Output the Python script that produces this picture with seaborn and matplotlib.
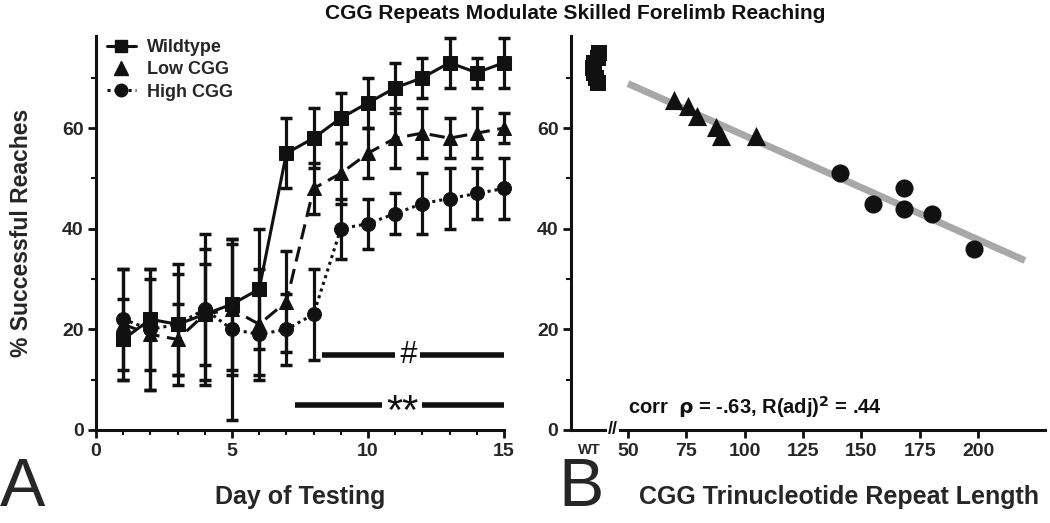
import numpy as np
import pandas as pd
import seaborn as sns
import matplotlib.pyplot as plt
from matplotlib.lines import Line2D
from matplotlib.ticker import MultipleLocator

# panel A: reaching success per day
days = np.arange(1, 16)
wt_mean = [18, 22, 21, 23, 25, 28, 55, 58, 62, 65, 68, 70, 73, 71, 73]
wt_err = [8, 10, 12, 10, 13, 12, 7, 6, 5, 5, 5, 4, 5, 3, 5]
low_mean = [21, 19, 18, 23, 24, 21, 25.5, 48, 51, 55, 58, 59, 58, 59, 60]
low_err = [11, 11, 7, 13, 13, 11, 10, 5, 6, 5, 6, 5, 4, 5, 3]
high_mean = [22, 20, 21, 24, 20, 19, 20, 23, 40, 41, 43, 45, 46, 47, 48]
high_err = [10, 12, 10, 15, 18, 8, 7, 9, 6, 5, 4, 6, 6, 5, 6]

# panel B: repeat length vs final success
wt_x = [37.5, 37, 35.5, 35, 35.5, 36.5, 37]
wt_y = [75, 74, 73, 72, 71, 70, 69]
low_x = [69.7, 75.7, 79.7, 87.6, 89.7, 105]
low_y = [65.5, 64.4, 62.4, 60.3, 58.4, 58.4]
high_x = [141, 155, 168, 168, 180, 198]
high_y = [51, 45, 48, 44, 43, 36]
fit_range = (50, 220)
b_ticks = [50, 75, 100, 125, 150, 175, 200]

sns.set_theme(style="ticks")
plt.rcParams["font.family"] = ["Liberation Sans", "DejaVu Sans"]
plt.rcParams["font.weight"] = "bold"
plt.rcParams["axes.labelweight"] = "bold"

fig = plt.figure(figsize=(10.5, 5.23), dpi=100)
fig.set_facecolor("#FFFFFF")
ax = fig.add_axes([96 / 1050, 93 / 523, 408 / 1050, 394 / 523])
bx = fig.add_axes([571 / 1050, 93 / 523, 474 / 1050, 394 / 523])

K = "#111111"
series = [
    (wt_mean, wt_err, "s", "-"),
    (low_mean, low_err, "^", (0, (5, 2.5))),
    (high_mean, high_err, "o", (0, (1, 1.3))),
]
for mean, err, mk, ls in series:
    ax.errorbar(days, mean, yerr=err, fmt="none", ecolor=K, elinewidth=2.3,
                capsize=4.5, capthick=2.5, clip_on=False, zorder=2)
    sns.lineplot(x=days, y=mean, ax=ax, color=K, linewidth=2.2, linestyle=ls,
                 marker=mk, markersize=10, markeredgecolor=K, clip_on=False, zorder=3)

ax.plot([8.3, 11.0], [15, 15], color=K, lw=4, solid_capstyle="butt")
ax.plot([11.9, 15], [15, 15], color=K, lw=4, solid_capstyle="butt")
ax.text(11.45, 15, "#", ha="center", va="center", fontsize=22, fontweight="normal",
        style="italic", color=K)
ax.plot([7.3, 10.5], [5, 5], color=K, lw=4, solid_capstyle="butt")
ax.plot([12.0, 15], [5, 5], color=K, lw=4, solid_capstyle="butt")
ax.text(11.25, 3.4, "**", ha="center", va="center", fontsize=30, fontweight="normal",
        color=K)

handles = [
    Line2D([], [], color=K, lw=2.2, marker="s", markersize=9),
    Line2D([], [], color=K, lw=0, marker="^", markersize=10),
    Line2D([], [], color=K, lw=2.2, ls=(0, (1, 1.3)), marker="o", markersize=9),
]
ax.legend(handles, ["Wildtype", "Low CGG", "High CGG"], loc="upper left",
          frameon=False, handlelength=1.6, handletextpad=0.6, labelspacing=0.3,
          borderaxespad=0.2, bbox_to_anchor=(0.0, 1.02), prop={"size": 13, "weight": "bold"})

ax.set_xlim(0, 15)
ax.set_ylim(0, 78.3)
ax.set_xticks([0, 5, 10, 15])
ax.set_yticks([0, 20, 40, 60])
ax.xaxis.set_minor_locator(MultipleLocator(1))
ax.yaxis.set_minor_locator(MultipleLocator(10))
ax.set_xlabel("Day of Testing", fontsize=18)
ax.set_ylabel("% Successful Reaches", fontsize=16.5)
ax.xaxis.set_label_coords(0.5, -0.14)
ax.yaxis.set_label_coords(-0.155, 0.5)

# panel B
sns.scatterplot(x=wt_x, y=wt_y, ax=bx, marker="s", s=130, color=K, edgecolor=K,
                linewidth=0, zorder=3)
sns.scatterplot(x=low_x, y=low_y, ax=bx, marker="^", s=190, color=K, edgecolor=K,
                linewidth=0, zorder=3)
sns.scatterplot(x=high_x, y=high_y, ax=bx, marker="o", s=170, color=K, edgecolor=K,
                linewidth=0, zorder=3)
fx = np.array(low_x + high_x)
fy = np.array(low_y + high_y)
slope, icpt = np.polyfit(fx, fy, 1)
xs = np.linspace(*fit_range, 50)
bx.plot(xs, slope * xs + icpt, color="#A8A8A8", lw=5, zorder=2, solid_capstyle="butt")

bx.text(50, 4.5, r"corr  $\mathbf{\rho}$ = -.63, R(adj)$^\mathbf{2}$ = .44", fontsize=14.5,
        ha="left", va="center", color=K)
bx.text(43.6, 0, "//", ha="center", va="center", fontsize=13, color=K,
        bbox=dict(boxstyle="square,pad=0.05", fc="white", ec="none"), clip_on=False)

bx.set_xlim(25.6, 228.6)
bx.set_ylim(0, 78.3)
bx.set_xticks([33.5] + b_ticks)
bx.set_xticklabels(["WT"] + [str(t) for t in b_ticks])
bx.set_yticks([0, 20, 40, 60])
bx.yaxis.set_minor_locator(MultipleLocator(10))
first = bx.xaxis.get_major_ticks()[0]
first.tick1line.set_visible(False)
bx.set_xlabel("CGG Trinucleotide Repeat Length", fontsize=18)
bx.xaxis.set_label_coords(0.565, -0.14)

for a in (ax, bx):
    sns.despine(ax=a)
    for s in ("left", "bottom"):
        a.spines[s].set_linewidth(2.2)
        a.spines[s].set_color(K)
    a.tick_params(which="major", length=6, width=2, color=K, labelsize=14, pad=3)
    a.tick_params(which="minor", length=3.5, width=1.5, color=K)
    for lab in a.get_xticklabels() + a.get_yticklabels():
        lab.set_fontweight("bold")
bx.xaxis.get_major_ticks()[0].label1.set_fontsize(10.5)

fig.text(0.548, 0.975, "CGG Repeats Modulate Skilled Forelimb Reaching",
         ha="center", va="center", fontsize=15, fontweight="bold", color=K)
fig.text(0.0, 0.006, "A", fontsize=49, fontweight="normal", ha="left", va="bottom")
fig.text(0.532, 0.006, "B", fontsize=49, fontweight="normal", ha="left", va="bottom")

plt.savefig("out.png", dpi=100, facecolor="#FFFFFF")
